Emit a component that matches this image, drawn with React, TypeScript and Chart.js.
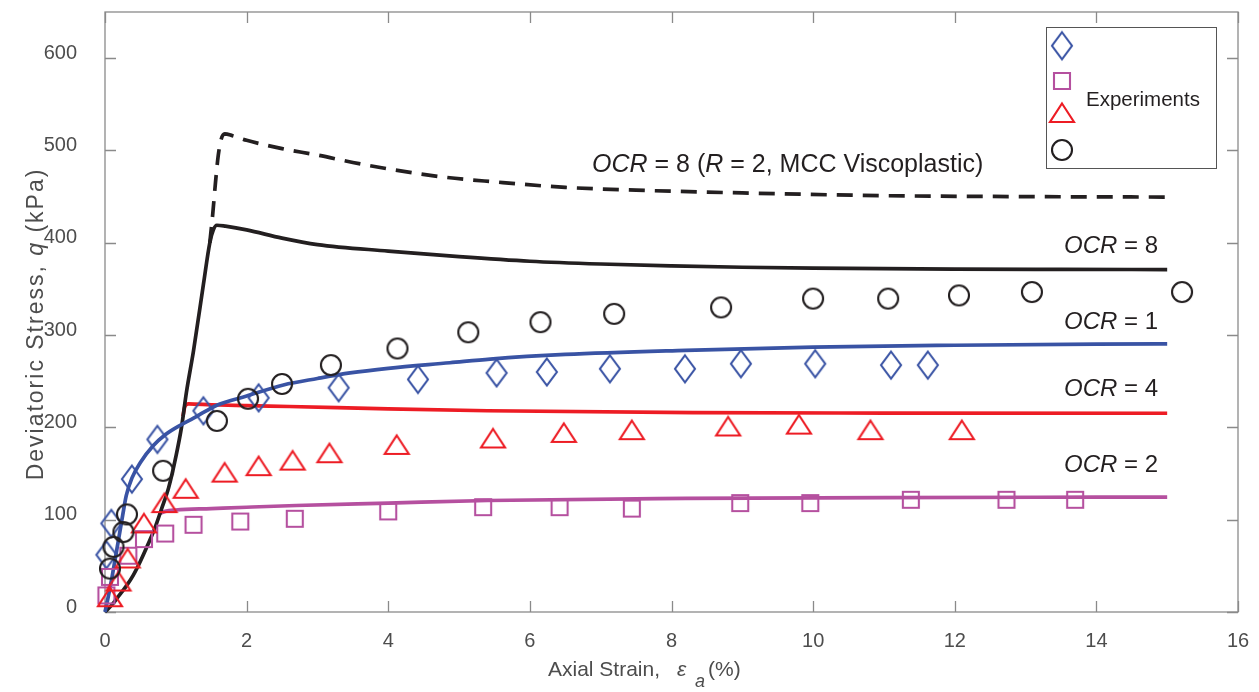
import React, { useEffect, useRef } from 'react';
import { Chart, registerables } from 'chart.js';

Chart.register(...registerables);

const FONT = '"Liberation Sans", Arial, Helvetica, sans-serif';

// ---------------- Axis ranges / ticks ----------------
const xMin = 0;
const xMax = 16;
const xStep = 2;
const yMin = 0;
const yMax = 650;
const yStep = 100;

// ---------------- Experimental data (markers) ----------------
// OCR = 1 (diamonds)
const expOcr1X = [0.02, 0.09, 0.38, 0.74, 1.39, 2.17, 3.3, 4.42, 5.53, 6.24, 7.13, 8.19, 8.98, 10.03, 11.1, 11.62];
const expOcr1Y = [62, 96, 144, 187, 218, 232, 243, 252, 259, 260, 263.5, 263.5, 269, 269, 267.5, 267.5];
// OCR = 2 (squares)
const expOcr2X = [0.02, 0.07, 0.33, 0.55, 0.85, 1.25, 1.91, 2.68, 4.0, 5.34, 6.42, 7.44, 8.97, 9.96, 11.38, 12.73, 13.7];
const expOcr2Y = [18, 38, 61, 79, 85, 94.5, 98, 101, 109, 113.6, 113.6, 112, 118, 118, 121.6, 121.6, 121.6];
// OCR = 4 (triangles)
const expOcr4X = [0.07, 0.19, 0.32, 0.55, 0.84, 1.14, 1.69, 2.17, 2.65, 3.17, 4.12, 5.48, 6.48, 7.44, 8.8, 9.8, 10.81, 12.1];
const expOcr4Y = [16, 33, 58, 96, 118, 133.5, 151, 158, 164, 172, 181, 188, 194, 197, 201, 203, 197, 197];
// OCR = 8 (circles)
const expOcr8X = [0.07, 0.12, 0.26, 0.31, 0.82, 1.58, 2.02, 2.5, 3.19, 4.13, 5.13, 6.15, 7.19, 8.7, 10.0, 11.06, 12.06, 13.09, 15.21];
const expOcr8Y = [47, 70.5, 86.6, 105.7, 153, 207, 231, 247, 267.5, 285.5, 303, 314, 323, 330, 339.5, 339.5, 343, 346.6, 346.6];

// ---------------- Model curves ----------------
const modelOcr8X = [0, 0.1, 0.2, 0.3, 0.4, 0.5, 0.6, 0.7, 0.8, 0.9, 1.0, 1.08, 1.15, 1.25, 1.39, 1.48, 1.53, 1.58, 1.7, 2.0, 2.5, 3.0, 4.0, 5.0, 6.0, 7.0, 8.0, 9.0, 10.0, 12.0, 13.5, 15.0];
const modelOcr8Y = [0, 8, 18, 28, 40, 55, 72, 90, 112, 135, 168, 200, 238, 283, 355, 400, 414, 419, 418, 414, 405, 398, 391, 385, 380, 377, 375, 373.5, 372.5, 371.5, 371.2, 371];

const modelOcr8VpX = [1.48, 1.52, 1.56, 1.6, 1.64, 1.69, 1.8, 2.0, 2.5, 3.0, 3.5, 4.0, 4.8, 5.5, 6.5, 7.5, 9.0, 11.0, 13.0, 15.0];
const modelOcr8VpY = [400, 430, 465, 495, 512, 518, 516, 511, 502, 495, 487, 480, 471, 466, 460, 457, 454, 451, 450, 449.5];

const modelOcr1X = [0, 0.05, 0.1, 0.19, 0.25, 0.3, 0.38, 0.5, 0.68, 0.85, 1.08, 1.25, 1.41, 1.58, 2.0, 2.52, 3.0, 3.46, 4.0, 4.87, 5.44, 6.5, 8.2, 10, 12, 14, 15];
const modelOcr1Y = [0, 18, 38, 78, 105, 126, 145, 162, 180, 192, 203, 210, 217, 224, 234, 246, 253, 259, 264, 270, 274, 279, 283.5, 287, 289, 290.3, 290.5];

const modelOcr4X = [1.1, 1.13, 1.18, 1.5, 2.0, 2.6, 4.0, 5.4, 8.3, 11, 15];
const modelOcr4Y = [212, 223, 225.5, 224.5, 223.5, 222.6, 220, 218, 216, 215.5, 215.3];

const modelOcr2X = [0.76, 0.85, 1.0, 1.5, 2.0, 2.7, 4.0, 5.4, 8.2, 11, 14, 15];
const modelOcr2Y = [106, 109, 110.5, 112, 113.5, 115.4, 118, 120.8, 123, 124, 124.4, 124.5];

// ---------------- Colours ----------------
const BLUE = '#3953a4';
const PINK = '#b5509f';
const RED = '#ed1c24';
const BLACK = '#231f20';
const AXIS = '#8a8a8a';
const TICKTXT = '#4d4d4d';

const zip = (xs: number[], ys: number[]) => xs.map((x, i) => ({ x, y: ys[i] }));

function makeMarker(kind: string, color: string): HTMLCanvasElement {
  const c = document.createElement('canvas');
  if (kind === 'diamond') { c.width = 26; c.height = 34; }
  else if (kind === 'square') { c.width = 24; c.height = 24; }
  else if (kind === 'triangle') { c.width = 30; c.height = 26; }
  else { c.width = 26; c.height = 26; }
  const g = c.getContext('2d')!;
  g.strokeStyle = color;
  g.lineWidth = 2.1;
  g.lineJoin = 'miter';
  g.beginPath();
  if (kind === 'diamond') {
    g.moveTo(13, 3.5); g.lineTo(23, 17); g.lineTo(13, 30.5); g.lineTo(3, 17); g.closePath();
  } else if (kind === 'square') {
    g.rect(4, 4, 16, 16);
  } else if (kind === 'triangle') {
    g.moveTo(15, 3.5); g.lineTo(27, 22); g.lineTo(3, 22); g.closePath();
  } else {
    g.arc(13, 13, 10, 0, Math.PI * 2);
  }
  g.stroke();
  return c;
}

type Run = [string, boolean];

function runsWidth(ctx: CanvasRenderingContext2D, runs: Run[], size: number) {
  let w = 0;
  for (const [t, it] of runs) {
    ctx.font = `${it ? 'italic ' : ''}${size}px ${FONT}`;
    w += ctx.measureText(t).width;
  }
  return w;
}

function drawRuns(ctx: CanvasRenderingContext2D, runs: Run[], x: number, y: number, size: number, align: 'left' | 'right' | 'center') {
  const w = runsWidth(ctx, runs, size);
  let cx = align === 'left' ? x : align === 'right' ? x - w : x - w / 2;
  ctx.textAlign = 'left';
  ctx.textBaseline = 'alphabetic';
  for (const [t, it] of runs) {
    ctx.font = `${it ? 'italic ' : ''}${size}px ${FONT}`;
    ctx.fillText(t, cx, y);
    cx += ctx.measureText(t).width;
  }
}

export default function App() {
  const ref = useRef<HTMLCanvasElement | null>(null);

  useEffect(() => {
    if (!ref.current) return;
    const mDiamond = makeMarker('diamond', BLUE);
    const mSquare = makeMarker('square', PINK);
    const mTriangle = makeMarker('triangle', RED);
    const mCircle = makeMarker('circle', BLACK);

    const boxPlugin = {
      id: 'matlabBox',
      beforeDatasetsDraw(chart: any) {
        const { ctx, chartArea } = chart;
        const { left, right, top, bottom } = chartArea;
        const xs = chart.scales.x;
        const ys = chart.scales.y;
        ctx.save();
        ctx.strokeStyle = AXIS;
        ctx.lineWidth = 1.3;
        ctx.strokeRect(left, top, right - left, bottom - top);
        ctx.beginPath();
        const tl = 11;
        xs.ticks.forEach((t: any) => {
          const px = Math.round(xs.getPixelForValue(t.value)) + 0.5;
          ctx.moveTo(px, bottom); ctx.lineTo(px, bottom - tl);
          ctx.moveTo(px, top); ctx.lineTo(px, top + tl);
        });
        ys.ticks.forEach((t: any) => {
          const py = Math.round(ys.getPixelForValue(t.value)) + 0.5;
          ctx.moveTo(left, py); ctx.lineTo(left + tl, py);
          ctx.moveTo(right, py); ctx.lineTo(right - tl, py);
        });
        ctx.stroke();
        ctx.restore();
      },
    };

    const textPlugin = {
      id: 'texts',
      afterDraw(chart: any) {
        const { ctx } = chart;
        ctx.save();
        // Axis titles
        ctx.fillStyle = TICKTXT;
        drawRuns(ctx, [['Axial Strain,', false]], 548, 676, 21, 'left');
        drawRuns(ctx, [['\u03B5', true]], 677, 676, 21, 'left');
        drawRuns(ctx, [['a', true]], 695, 687, 18, 'left');
        drawRuns(ctx, [['(%)', false]], 708, 676, 21, 'left');

        ctx.save();
        ctx.translate(43, 324);
        ctx.rotate(-Math.PI / 2);
        try { (ctx as any).letterSpacing = '2px'; } catch (e) { /* ignore */ }
        drawRuns(ctx, [['Deviatoric Stress, ', false], ['q', true], [' (kPa)', false]], 0, 0, 23, 'center');
        try { (ctx as any).letterSpacing = '0px'; } catch (e) { /* ignore */ }
        ctx.restore();

        // Curve annotations
        ctx.fillStyle = BLACK;
        drawRuns(ctx, [['OCR', true], [' = 8 (', false], ['R', true], [' = 2, MCC Viscoplastic)', false]], 592, 172, 25, 'left');
        drawRuns(ctx, [['OCR', true], [' = 8', false]], 1158, 253, 24, 'right');
        drawRuns(ctx, [['OCR', true], [' = 1', false]], 1158, 329, 24, 'right');
        drawRuns(ctx, [['OCR', true], [' = 4', false]], 1158, 396, 24, 'right');
        drawRuns(ctx, [['OCR', true], [' = 2', false]], 1158, 472, 24, 'right');

        // Legend
        const lx0 = 1046, ly0 = 27, lx1 = 1216, ly1 = 168;
        ctx.fillStyle = '#ffffff';
        ctx.fillRect(lx0, ly0, lx1 - lx0, ly1 - ly0);
        ctx.strokeStyle = '#555555';
        ctx.lineWidth = 1;
        ctx.strokeRect(lx0 + 0.5, ly0 + 0.5, lx1 - lx0, ly1 - ly0);
        const mk = [
          [mDiamond, 45.7],
          [mSquare, 81],
          [mTriangle, 113],
          [mCircle, 150],
        ] as [HTMLCanvasElement, number][];
        mk.forEach(([img, cy]) => {
          ctx.drawImage(img, 1062 - img.width / 2, cy - img.height / 2);
        });
        ctx.fillStyle = BLACK;
        drawRuns(ctx, [['Experiments', false]], 1086, 106, 20.5, 'left');
        ctx.restore();
      },
    };

    const line = (xs: number[], ys: number[], color: string, order: number, dash?: number[]) => ({
      data: zip(xs, ys),
      showLine: true,
      borderColor: color,
      backgroundColor: color,
      borderWidth: 3.7,
      borderDash: dash || [],
      pointRadius: 0,
      pointHoverRadius: 0,
      cubicInterpolationMode: 'monotone' as const,
      order,
      clip: false,
    });
    const markers = (xs: number[], ys: number[], img: HTMLCanvasElement, order: number) => ({
      data: zip(xs, ys),
      showLine: false,
      pointStyle: img,
      pointRadius: 11,
      pointHoverRadius: 11,
      borderColor: 'transparent',
      backgroundColor: 'transparent',
      order,
      clip: false,
    });

    const chart = new Chart(ref.current, {
      type: 'scatter',
      data: {
        datasets: [
          markers(expOcr8X, expOcr8Y, mCircle, 0),
          markers(expOcr4X, expOcr4Y, mTriangle, 0),
          markers(expOcr2X, expOcr2Y, mSquare, 0),
          markers(expOcr1X, expOcr1Y, mDiamond, 0),
          line(modelOcr1X, modelOcr1Y, BLUE, 1),
          line(modelOcr8X, modelOcr8Y, BLACK, 2),
          line(modelOcr8VpX, modelOcr8VpY, BLACK, 3, [16, 10]),
          line(modelOcr4X, modelOcr4Y, RED, 4),
          line(modelOcr2X, modelOcr2Y, PINK, 5),
        ] as any,
      },
      options: {
        animation: false,
        responsive: false,
        devicePixelRatio: 1,
        layout: { padding: { top: 9, right: 21, left: 0, bottom: 0 } },
        plugins: {
          legend: { display: false },
          tooltip: { enabled: false },
        },
        events: [],
        scales: {
          x: {
            type: 'linear',
            min: xMin,
            max: xMax,
            grid: { display: false },
            border: { display: false },
            ticks: {
              stepSize: xStep,
              color: TICKTXT,
              padding: 9,
              font: { family: FONT, size: 20 },
            },
            afterFit: (s: any) => {
              s.height = 80;
              s.paddingLeft = 0;
              s.paddingRight = 0;
            },
          },
          y: {
            type: 'linear',
            min: yMin,
            max: yMax,
            grid: { display: false },
            border: { display: false },
            ticks: {
              stepSize: yStep,
              color: TICKTXT,
              padding: 20,
              labelOffset: -5,
              font: { family: FONT, size: 20 },
            },
            afterBuildTicks: (s: any) => {
              s.ticks = s.ticks.filter((t: any) => t.value % yStep === 0);
            },
            afterFit: (s: any) => {
              s.width = 105;
              s.paddingTop = 0;
              s.paddingBottom = 0;
            },
          },
        },
      } as any,
      plugins: [boxPlugin, textPlugin],
    });
    return () => chart.destroy();
  }, []);

  return (
    <div style={{ position: 'absolute', left: 0, top: 0, width: 1259, height: 692, background: '#fff' }}>
      <canvas ref={ref} width={1259} height={692} style={{ display: 'block', width: 1259, height: 692 }} />
    </div>
  );
}
